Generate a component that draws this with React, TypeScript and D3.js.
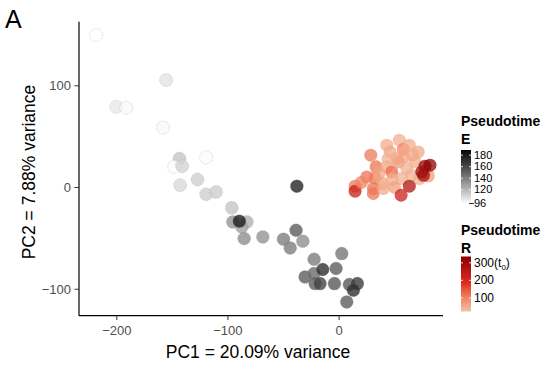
import * as d3 from 'd3';

// PC coordinates and pseudotime, group E (grey scale)
const eX = [-218.5, -155.6, -200.5, -191.5, -158.5, -143.6, -119.6, -148.4, -141.2, -143, -127.4, -119.6, -110.6, -96.5, -95.6, -83, -87.5, -89.7, -85.4, -68.6, -50, -38.7, -32.6, -44, -38, -22.5, 2.4, -30.6, -22.5, -2.7, -21.6, -17.1, -14.7, -4.2, 9.3, 16.5, 12.9, 6.9];
const eY = [150, 105.6, 79.3, 78.3, 59, 28.5, 29.5, 20.3, 21, 2.3, 7.9, -6.6, -4.3, -20, -33.8, -33.8, -38.7, -33.1, -50.1, -48.6, -50.8, -42, -52.8, -59.4, 1.3, -70.5, -64.9, -87.9, -84.6, -79.6, -94.4, -94.4, -80.6, -94.4, -95.4, -94.4, -101, -112.5];
const eT = [96, 105, 103, 98, 98, 115, 97, 97, 110, 108, 112, 112, 112, 115, 132, 122, 127, 180, 134, 132, 140, 152, 134, 140, 175, 140, 142, 152, 147, 152, 152, 162, 170, 154, 154, 166, 170, 152];

// group R (red scale)
const rX = [14.4, 14.4, 28.5, 42.9, 54.2, 57.8, 63.2, 71.3, 33.3, 42.9, 47.4, 24.9, 32.4, 39.3, 30.8, 30.8, 39.8, 56.4, 60.9, 51.9, 45.9, 53.3, 68.3, 65.4, 72.2, 36, 48, 58, 66, 44, 20, 50, 80.3, 63.2, 55.8, 77.3, 81.8, 74.4, 76];
const rY = [1.3, -3.6, 31.8, 41.6, 46.5, 37.7, 41.6, 35, 20.3, 20.3, 15.3, 10.4, 9.4, 3.9, -1, -5.9, -1, 8.8, 18.7, 28.5, 35, 25.2, 25.2, 12.1, 8.8, 14, 8, 30, 32, 28, 5, 0, 11.4, 1.3, -7.6, 21, 22, 15.3, 12];
const rT = [110, 230, 110, 50, 45, 95, 50, 55, 120, 55, 130, 120, 110, 60, 120, 115, 50, 45, 45, 50, 55, 70, 50, 45, 45, 60, 50, 60, 55, 45, 100, 65, 70, 270, 225, 320, 330, 300, 290];

const xTicks = [-200, -100, 0];
const yTicks = [-100, 0, 100];
const eBreaks = [96, 120, 140, 160, 180];
const rBreaks = [100, 200, 300];
const rLabels = ['100', '200', '300'];

const FONT = "'Liberation Sans', Arial, sans-serif";

export default function App() {
  const W = 552, H = 372;
  const x = d3.scaleLinear().domain([-234, 93.5]).range([79, 443]);
  const y = d3.scaleLinear().domain([-126, 163]).range([315.7, 21.7]);

  const eDom: [number, number] = [96, 189];
  const eCol = d3.scaleLinear<string>().domain(eDom).range(['#ffffff', '#000000']).interpolate(d3.interpolateLab);
  const rDom = [22, 180, 336];
  const rCol = d3.scaleLinear<string>().domain(rDom).range(['#efc3a5', '#e32b22', '#8b0000']).interpolate(d3.interpolateLab);

  const eBar = d3.scaleLinear().domain(eDom).range([203.5, 150]);
  const rBar = d3.scaleLinear().domain([22, 336]).range([311.5, 256.5]);

  const stops = (dom: number[], col: (v: number) => string) =>
    d3.range(0, 1.0001, 0.05).map(t => {
      const v = dom[0] + t * (dom[dom.length - 1] - dom[0]);
      return <stop key={t} offset={`${t * 100}%`} stopColor={col(v)} />;
    });

  const fmt = (t: number) => (t < 0 ? '\u2212' + (-t) : String(t));

  return (
    <svg width={W} height={H} style={{ position: 'absolute', left: 0, top: 0, background: '#fff' }} fontFamily={FONT}>
      <defs>
        <linearGradient id="gE" x1="0" y1="1" x2="0" y2="0">{stops(eDom, eCol)}</linearGradient>
        <linearGradient id="gR" x1="0" y1="1" x2="0" y2="0">{stops([22, 336], rCol)}</linearGradient>
      </defs>

      <text x={5} y={28} fontSize={25}>A</text>

      {/* points */}
      {eX.map((v, i) => (
        <circle key={'e' + i} cx={x(v)} cy={y(eY[i])} r={6.5} fill={eCol(eT[i])} fillOpacity={0.8}
          stroke="#999" strokeWidth={0.6} strokeDasharray="1.3,1.3" strokeOpacity={0.7} />
      ))}
      {rX.map((v, i) => (
        <circle key={'r' + i} cx={x(v)} cy={y(rY[i])} r={6.5} fill={rCol(rT[i])} fillOpacity={0.75} />
      ))}

      {/* axes */}
      <line x1={79} x2={443} y1={315.7} y2={315.7} stroke="#000" strokeWidth={1.2} />
      <line x1={79} x2={79} y1={21.7} y2={315.7} stroke="#000" strokeWidth={1.2} />
      {xTicks.map(t => (
        <g key={t}>
          <line x1={x(t)} x2={x(t)} y1={315.7} y2={320} stroke="#333" strokeWidth={1} />
          <text x={x(t)} y={334.5} textAnchor="middle" fontSize={13} fill="#4d4d4d">{fmt(t)}</text>
        </g>
      ))}
      {yTicks.map(t => (
        <g key={t}>
          <line x1={74.5} x2={79} y1={y(t)} y2={y(t)} stroke="#333" strokeWidth={1} />
          <text x={71} y={y(t) + 4.6} textAnchor="end" fontSize={13} fill="#4d4d4d">{fmt(t)}</text>
        </g>
      ))}
      <text x={258} y={358} textAnchor="middle" fontSize={17.5}>PC1 = 20.09% variance</text>
      <text transform="translate(35,172) rotate(-90)" textAnchor="middle" fontSize={17.5}>PC2 = 7.88% variance</text>

      {/* legend E */}
      <text x={461} y={126} fontSize={14} fontWeight="bold">Pseudotime</text>
      <text x={461} y={144} fontSize={14} fontWeight="bold">E</text>
      <rect x={461} y={150} width={10} height={53.5} fill="url(#gE)" />
      {eBreaks.map(b => (
        <g key={b}>
          {b === 96
            ? <line x1={469} x2={474} y1={eBar(b)} y2={eBar(b)} stroke="#333" strokeWidth={1} />
            : <>
              <line x1={461} x2={463} y1={eBar(b)} y2={eBar(b)} stroke="#fff" strokeWidth={0.8} />
              <line x1={469} x2={471} y1={eBar(b)} y2={eBar(b)} stroke="#fff" strokeWidth={0.8} />
            </>}
          <text x={474} y={eBar(b) + 3.8} fontSize={11}>{b}</text>
        </g>
      ))}

      {/* legend R */}
      <text x={461} y={235} fontSize={14} fontWeight="bold">Pseudotime</text>
      <text x={461} y={253} fontSize={14} fontWeight="bold">R</text>
      <rect x={461} y={256.5} width={10} height={55} fill="url(#gR)" />
      {rBreaks.map((b, i) => (
        <g key={b}>
          <line x1={461} x2={463} y1={rBar(b)} y2={rBar(b)} stroke="#fff" strokeWidth={0.8} />
          <line x1={469} x2={471} y1={rBar(b)} y2={rBar(b)} stroke="#fff" strokeWidth={0.8} />
          <text x={474} y={rBar(b) + 4} fontSize={12}>
            {rLabels[i]}
            {b === 300 && <>(t<tspan fontSize={8} dy={3}>0</tspan><tspan dy={-3}>)</tspan></>}
          </text>
        </g>
      ))}
    </svg>
  );
}
